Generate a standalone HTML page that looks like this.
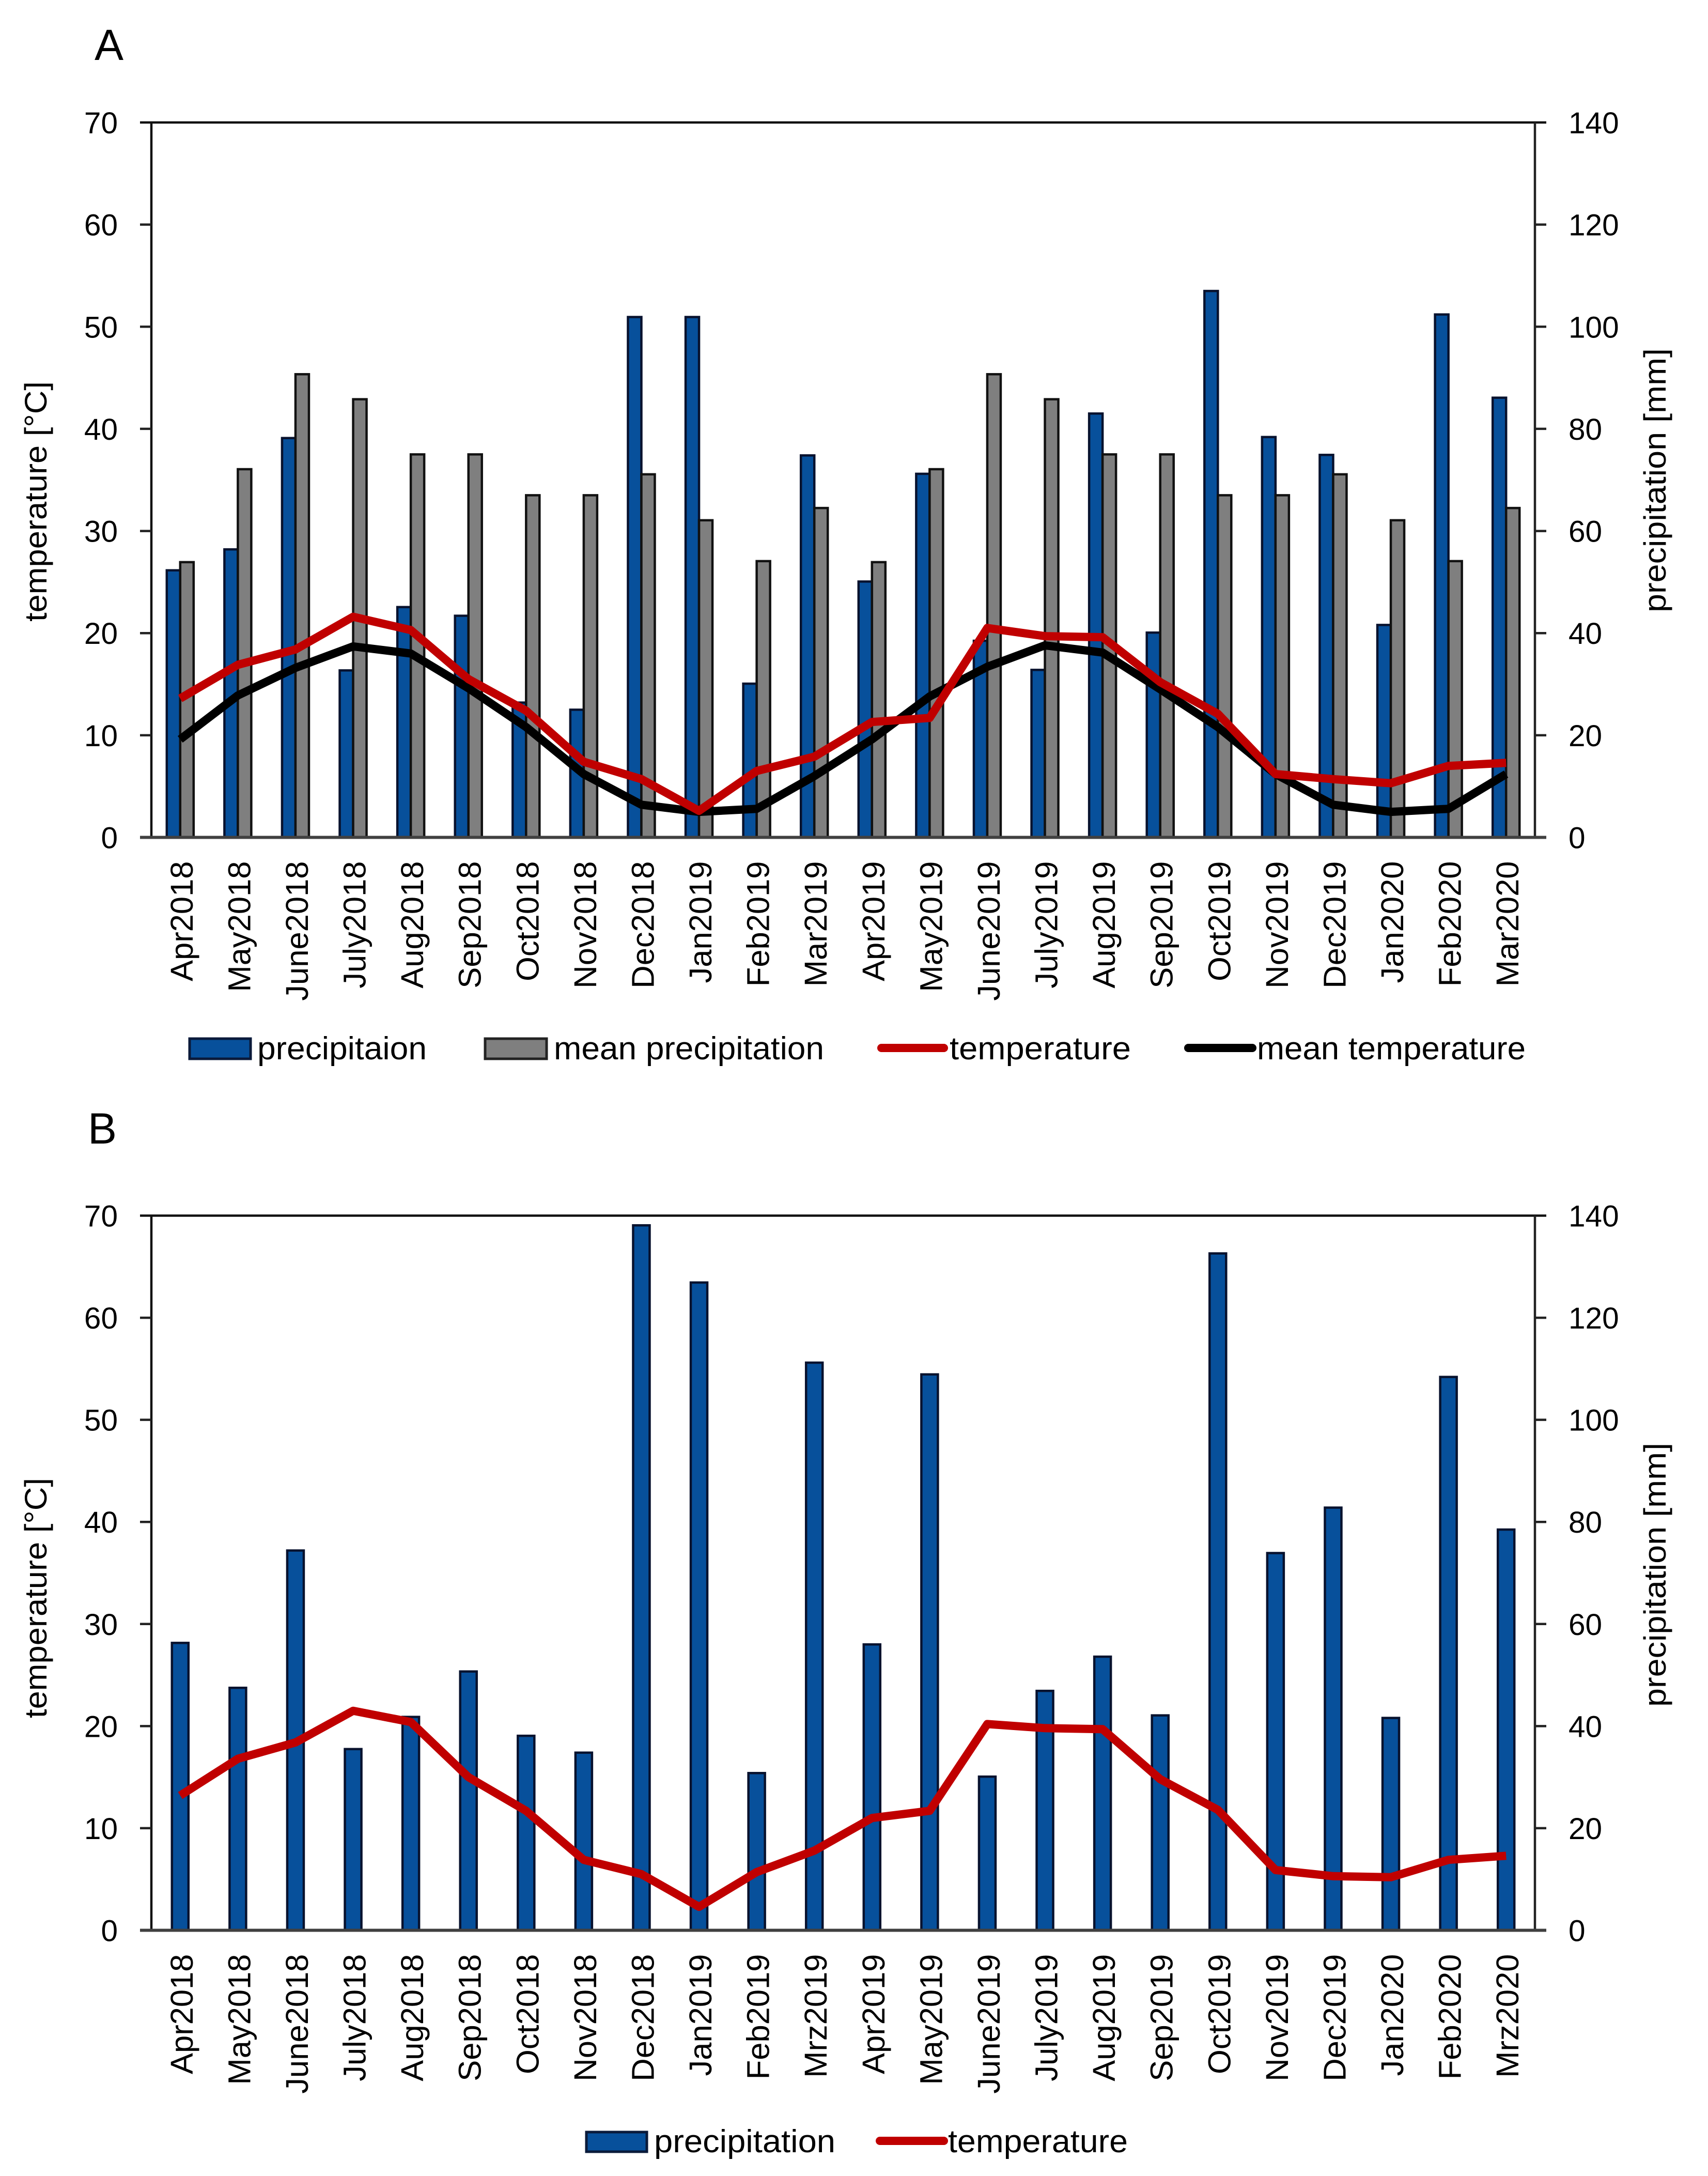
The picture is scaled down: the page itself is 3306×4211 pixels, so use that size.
<!DOCTYPE html>
<html lang="en">
<head>
<meta charset="utf-8">
<title>Precipitation and temperature charts</title>
<style>
html,body{margin:0;padding:0;background:#fff;}
svg{display:block;}
text{font-family:"Liberation Sans",sans-serif;fill:#000;}
</style>
</head>
<body>
<svg id="figure" xmlns="http://www.w3.org/2000/svg" width="3306" height="4211" viewBox="0 0 3306 4211">
<rect x="0" y="0" width="3306" height="4211" fill="#fff"/>
<text x="183" y="116" font-size="84">A</text>
<text x="170" y="2213" font-size="84">B</text>

<g id="panel-a"></g>
<text transform="translate(90,1203) rotate(-90)" font-size="60" textLength="465" lengthAdjust="spacingAndGlyphs">temperature [°C]</text>
<text transform="translate(3224,1185) rotate(-90)" font-size="60" textLength="511" lengthAdjust="spacingAndGlyphs">precipitation [mm]</text>
<g>
  <rect x="367" y="2010" width="118" height="39" fill="#07509b" stroke="#0a1a3a" stroke-width="5"/>
  <text x="498" y="2050" font-size="62" textLength="328" lengthAdjust="spacingAndGlyphs">precipitaion</text>
  <rect x="939" y="2010" width="119" height="39" fill="#7f7f7f" stroke="#222" stroke-width="5"/>
  <text x="1072" y="2050" font-size="62" textLength="523" lengthAdjust="spacingAndGlyphs">mean precipitation</text>
  <line x1="1706" y1="2028" x2="1827" y2="2028" stroke="#c00000" stroke-width="16" stroke-linecap="round"/>
  <text x="1838" y="2050" font-size="62" textLength="351" lengthAdjust="spacingAndGlyphs">temperature</text>
  <line x1="2300" y1="2028" x2="2424" y2="2028" stroke="#000" stroke-width="16" stroke-linecap="round"/>
  <text x="2433" y="2050" font-size="62" textLength="520" lengthAdjust="spacingAndGlyphs">mean temperature</text>
</g>

<g id="panel-b"></g>
<text transform="translate(90,3325) rotate(-90)" font-size="60" textLength="465" lengthAdjust="spacingAndGlyphs">temperature [°C]</text>
<text transform="translate(3224,3303) rotate(-90)" font-size="60" textLength="511" lengthAdjust="spacingAndGlyphs">precipitation [mm]</text>
<g>
  <rect x="1135" y="4126" width="117" height="38" fill="#07509b" stroke="#0a1a3a" stroke-width="5"/>
  <text x="1266" y="4165" font-size="62" textLength="351" lengthAdjust="spacingAndGlyphs">precipitation</text>
  <line x1="1703" y1="4143" x2="1827" y2="4143" stroke="#c00000" stroke-width="16" stroke-linecap="round"/>
  <text x="1835" y="4165" font-size="62" textLength="348" lengthAdjust="spacingAndGlyphs">temperature</text>
</g>
</svg>

<script>
var categoriesA = ["Apr2018","May2018","June2018","July2018","Aug2018","Sep2018","Oct2018","Nov2018","Dec2018","Jan2019","Feb2019","Mar2019","Apr2019","May2019","June2019","July2019","Aug2019","Sep2019","Oct2019","Nov2019","Dec2019","Jan2020","Feb2020","Mar2020"];
var categoriesB = ["Apr2018","May2018","June2018","July2018","Aug2018","Sep2018","Oct2018","Nov2018","Dec2018","Jan2019","Feb2019","Mrz2019","Apr2019","May2019","June2019","July2019","Aug2019","Sep2019","Oct2019","Nov2019","Dec2019","Jan2020","Feb2020","Mrz2020"];
var leftTicks = [0,10,20,30,40,50,60,70];
var rightTicks = [0,20,40,60,80,100,120,140];
var precipitationA = [52.3,56.4,78.2,32.7,45.1,43.4,26.4,25,101.9,101.9,30.1,74.8,50.1,71.2,38.5,32.8,83,40.1,107,78.4,74.9,41.6,102.4,86.1];
var meanPrecipitationA = [53.9,72.1,90.7,85.8,75,75,67,67,71.1,62.1,54.1,64.5,53.9,72.1,90.7,85.8,75,75,67,67,71.1,62.1,54.1,64.5];
var temperatureA = [13.6,16.9,18.4,21.6,20.3,15.5,12.4,7.4,5.7,2.6,6.5,7.9,11.3,11.7,20.5,19.7,19.6,15.2,12.1,6.2,5.7,5.3,7,7.3];
var meanTemperatureA = [9.6,13.9,16.6,18.7,18,14.6,10.8,6.2,3.2,2.5,2.8,6,9.6,13.8,16.7,18.8,18.1,14.5,10.8,6.2,3.2,2.5,2.8,6.2];
var precipitationB = [56.3,47.5,74.4,35.5,41.8,50.7,38.1,34.8,138.1,126.9,30.8,111.2,56,108.9,30.1,46.9,53.6,42.1,132.6,73.9,82.8,41.6,108.4,78.5];
var temperatureB = [13.2,16.8,18.4,21.5,20.4,15,11.7,6.9,5.5,2.3,5.7,7.8,11,11.7,20.2,19.8,19.7,14.8,11.8,5.9,5.3,5.2,6.9,7.3];

var SVG_NS = "http://www.w3.org/2000/svg";
var plotLeft = 293, plotRight = 2971, tickLen = 22;

function make(parent, tag, attrs, text) {
  var el = document.createElementNS(SVG_NS, tag);
  for (var k in attrs) el.setAttribute(k, attrs[k]);
  if (text !== undefined) el.textContent = text;
  parent.appendChild(el);
  return el;
}
function xCat(i, n) { return plotLeft + (i + 0.5) * (plotRight - plotLeft) / n; }
function yTemp(v, top, base) { return base - v / 70 * (base - top); }
function yPrecip(v, top, base) { return base - v / 140 * (base - top); }

function drawBars(g, values, n, top, base, dx, w, fill, stroke, prefix, cats) {
  values.forEach(function (v, i) {
    var y = yPrecip(v, top, base);
    var el = make(g, "rect", {x: xCat(i, n) + dx, y: y, width: w, height: base - y, fill: fill, stroke: stroke, "stroke-width": 4.5});
    
    
  });
}
function drawLine(g, values, n, top, base, color, width, name) {
  var pts = values.map(function (v, i) { return xCat(i, n).toFixed(1) + "," + yTemp(v, top, base).toFixed(1); }).join(" ");
  var el = make(g, "polyline", {points: pts, fill: "none", stroke: color, "stroke-width": width, "stroke-linejoin": "round", "stroke-linecap": "butt"});
  
  
}
function drawAxes(g, top, base, cats) {
  var n = cats.length, el;
  el = make(g, "line", {x1: plotLeft - tickLen, y1: top, x2: plotRight + tickLen, y2: top, stroke: "#111", "stroke-width": 4.5});
  
  
  el = make(g, "line", {x1: plotLeft, y1: top, x2: plotLeft, y2: base, stroke: "#111", "stroke-width": 4.5});
  
  
  el = make(g, "line", {x1: plotRight, y1: top, x2: plotRight, y2: base, stroke: "#222", "stroke-width": 4.5});
  
  
  leftTicks.forEach(function (t) {
    var y = yTemp(t, top, base);
    if (t > 0 && t < 70) {
      var m = make(g, "line", {x1: plotLeft - tickLen, y1: y, x2: plotLeft, y2: y, stroke: "#222", "stroke-width": 4.5});
      
      
    }
    var l = make(g, "text", {x: 228, y: y + 21, "text-anchor": "end", "font-size": 58.5}, String(t));
    
    
  });
  rightTicks.forEach(function (t) {
    var y = yPrecip(t, top, base);
    if (t > 0 && t < 140) {
      var m = make(g, "line", {x1: plotRight, y1: y, x2: plotRight + tickLen, y2: y, stroke: "#222", "stroke-width": 4.5});
      
      
    }
    var l = make(g, "text", {x: 3036, y: y + 21, "font-size": 58.5}, String(t));
    
    
  });
  cats.forEach(function (c, i) {
    var px = xCat(i, n) + 24, py = base + 46;
    var l = make(g, "text", {transform: "translate(" + px + "," + py + ") rotate(-90)", "text-anchor": "end", "font-size": 61.5}, c);
    
    
  });
}
function drawBaseline(g, base) {
  var el = make(g, "line", {x1: plotLeft - tickLen, y1: base, x2: plotRight + tickLen, y2: base, stroke: "#404040", "stroke-width": 6});
  
  
}

var topA = 237, baseA = 1620.5, topB = 2352.5, baseB = 3735.5;
var gA = document.getElementById("panel-a");
var gB = document.getElementById("panel-b");

drawAxes(gA, topA, baseA, categoriesA);
drawBars(gA, precipitationA, 24, topA, baseA, -26, 26, "#07509b", "#08122e", "bar-precipitation", categoriesA);
drawBars(gA, meanPrecipitationA, 24, topA, baseA, 0, 26, "#7f7f7f", "#111", "bar-mean-precipitation", categoriesA);
drawBaseline(gA, baseA);
drawLine(gA, meanTemperatureA, 24, topA, baseA, "#000", 16, "line-mean-temperature");
drawLine(gA, temperatureA, 24, topA, baseA, "#c00000", 16, "line-temperature");

drawAxes(gB, topB, baseB, categoriesB);
drawBars(gB, precipitationB, 24, topB, baseB, -16, 32, "#07509b", "#08122e", "bar-precipitation-b", categoriesB);
drawBaseline(gB, baseB);
drawLine(gB, temperatureB, 24, topB, baseB, "#c00000", 16, "line-temperature-b");
</script>
</body>
</html>
